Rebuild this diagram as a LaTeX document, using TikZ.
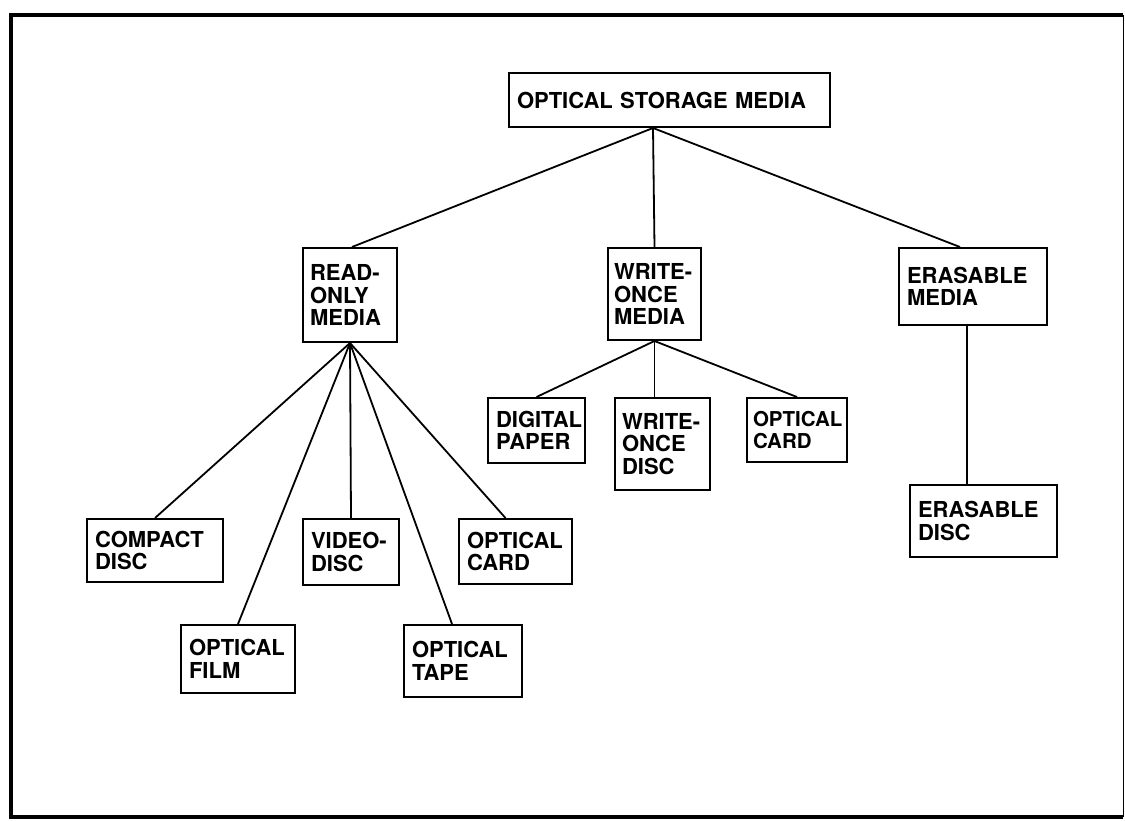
\documentclass[tikz,border=0pt]{standalone}
\usepackage{fontspec}
\setmainfont{TeX Gyre Heros}
\begin{document}
\begin{tikzpicture}[x=1pt,y=-1pt,
  bx/.style={draw, line width=2pt, inner xsep=8pt, inner ysep=0pt, align=left,
             font=\bfseries\fontsize{22}{22.5}\selectfont,
             execute at begin node={\exhyphenpenalty=10000\relax}},
  link/.style={line width=1.8pt},
  frame/.style={line width=3.5pt}]
\useasboundingbox (0,0) rectangle (1125,820);

% outer frame
\draw[frame] (1123,15) -- (11,15) -- (11,817) -- (1123,817);
\draw[line width=0.8pt] (1123,15) -- (1123,817);

% root
\node[bx, minimum width=321pt, minimum height=54pt, text width=305pt] (osm) at (669.5,100) {OPTICAL STORAGE MEDIA};

% second level
\node[bx, minimum width=94pt, minimum height=94pt, text width=80pt, inner xsep=7pt] (ro) at (350,295) {READ-\\ONLY\\MEDIA};
\node[bx, minimum width=93pt, minimum height=92pt, text width=81pt, inner xsep=6pt] (wo) at (654.5,294) {WRITE-\\ONCE\\MEDIA};
\node[bx, minimum width=148pt, minimum height=77pt, text width=132pt] (er) at (973,286.5) {ERASABLE\\MEDIA};

% read-only media
\node[bx, minimum width=136pt, minimum height=63pt, text width=120pt] (cd) at (155,550.5) {COMPACT\\DISC};
\node[bx, minimum width=96pt, minimum height=66pt, text width=80pt] (vd) at (351,552) {VIDEO-\\DISC};
\node[bx, minimum width=113pt, minimum height=65pt, text width=97pt] (oc1) at (515.5,551.5) {OPTICAL\\CARD};
\node[bx, minimum width=114pt, minimum height=68pt, text width=98pt] (of) at (238,659) {OPTICAL\\FILM};
\node[bx, minimum width=118pt, minimum height=72pt, text width=102pt] (ot) at (463,661) {OPTICAL\\TAPE};

% write-once media
\node[bx, minimum width=97pt, minimum height=65pt, text width=81pt] (dp) at (536.5,430.5) {DIGITAL\\PAPER};
\node[bx, minimum width=95pt, minimum height=92pt, text width=81pt, inner xsep=7pt] (wd) at (662.5,444) {WRITE-\\ONCE\\DISC};
\node[bx, minimum width=100pt, minimum height=64pt, text width=88pt, inner xsep=6pt,
      font=\bfseries\fontsize{20.5}{22.5}\selectfont] (oc2) at (797,430) {OPTICAL\\CARD};

% erasable media
\node[bx, minimum width=147pt, minimum height=72pt, text width=131pt] (ed) at (983.5,521) {ERASABLE\\DISC};

% connectors
\draw[link] ([xshift=-16.5pt]osm.south) -- ([xshift=2pt]ro.north);
\draw[link] ([xshift=-16.5pt]osm.south) -- (wo.north);
\draw[link] ([xshift=-16.5pt]osm.south) -- ([xshift=-13pt]er.north);

\draw[link] (ro.south) -- (cd.north);
\draw[link] (ro.south) -- (of.north);
\draw[link] (ro.south) -- (vd.north);
\draw[link] (ro.south) -- ([xshift=-11pt]ot.north);
\draw[link] (ro.south) -- ([xshift=-10pt]oc1.north);

\draw[link] (wo.south) -- (dp.north);
\draw[link] (wo.south) -- (wo.south |- wd.north);
\draw[link] (wo.south) -- (oc2.north);

\draw[link] ([xshift=-6pt]er.south) -- ([xshift=-6pt]er.south |- ed.north);
\end{tikzpicture}
\end{document}
